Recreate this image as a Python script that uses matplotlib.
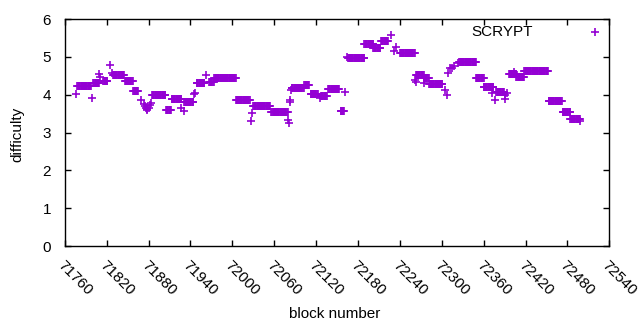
import numpy as np
import matplotlib.pyplot as plt

plt.rcParams['font.family'] = ['Liberation Sans', 'DejaVu Sans']
plt.rcParams['font.size'] = 11

# runs of constant difficulty: first block, last block, difficulty
run_start = [71776, 71778, 71799, 71801, 71809, 71811, 71815, 71824, 71827, 71829,
             71846, 71858, 71869, 71873, 71875, 71876, 71877, 71878, 71880, 71882,
             71883, 71885, 71905, 71913, 71927, 71930, 71931, 71945, 71946, 71949,
             71962, 71967, 71974, 72005, 72026, 72028, 72030, 72056, 72080, 72081,
             72082, 72083, 72084, 72085, 72103, 72112, 72125, 72127, 72137, 72155,
             72162, 72164, 72166, 72189, 72202, 72213, 72227, 72232, 72235, 72240,
             72262, 72263, 72263, 72274, 72274, 72282, 72305, 72308, 72309, 72312,
             72314, 72318, 72323, 72325, 72349, 72360, 72372, 72376, 72378, 72390,
             72391, 72393, 72396, 72403, 72407, 72418, 72453, 72473, 72484, 72498]
run_end = [71776, 71797, 71799, 71809, 71809, 71811, 71821, 71824, 71827, 71845,
           71857, 71865, 71869, 71873, 71875, 71876, 71877, 71878, 71880, 71882,
           71883, 71904, 71912, 71927, 71927, 71930, 71944, 71945, 71946, 71960,
           71962, 71973, 72005, 72025, 72026, 72028, 72054, 72079, 72080, 72081,
           72082, 72083, 72084, 72102, 72110, 72122, 72125, 72135, 72153, 72160,
           72162, 72164, 72189, 72202, 72212, 72223, 72227, 72232, 72235, 72261,
           72262, 72263, 72274, 72281, 72274, 72301, 72305, 72308, 72309, 72312,
           72314, 72318, 72323, 72349, 72360, 72374, 72372, 72376, 72389, 72390,
           72391, 72393, 72407, 72403, 72418, 72452, 72472, 72484, 72498, 72498]
run_diff = [4.01, 4.23, 3.90, 4.30, 4.55, 4.48, 4.35, 4.78, 4.58, 4.51,
            4.35, 4.09, 3.86, 3.75, 3.70, 3.65, 3.62, 3.60, 3.65, 3.72,
            3.77, 3.99, 3.59, 3.88, 3.64, 3.58, 3.80, 4.01, 4.05, 4.32,
            4.53, 4.33, 4.43, 3.85, 3.31, 3.51, 3.70, 3.53, 3.33, 3.26,
            3.80, 3.86, 4.12, 4.17, 4.26, 4.01, 3.90, 3.97, 4.14, 3.56,
            4.06, 5.00, 4.96, 5.34, 5.23, 5.43, 5.58, 5.16, 5.27, 5.09,
            4.39, 4.34, 4.52, 4.43, 4.30, 4.27, 4.12, 3.99, 4.56, 4.70,
            4.70, 4.76, 4.83, 4.86, 4.43, 4.20, 4.04, 3.86, 4.08, 3.99,
            3.88, 4.05, 4.55, 4.61, 4.46, 4.62, 3.83, 3.53, 3.35, 3.30]

xticks = np.arange(71760, 72541, 60)

blocks = []
diffs = []
for s, e, d in zip(run_start, run_end, run_diff):
    for b in range(s, e + 1):
        blocks.append(b)
        diffs.append(d)

fig = plt.figure(figsize=(6.4, 3.3), dpi=100)
ax = fig.add_axes([0.1013, 0.2545, 0.8508, 0.6879])

ax.plot(blocks, diffs, linestyle='none', marker='+', markersize=6,
        markeredgewidth=1.2, color='#9400D3')

ax.set_xlim(71760, 72540)
ax.set_ylim(0, 6)
ax.set_xticks(xticks)
ax.set_yticks(range(0, 7))
ax.set_xticklabels([str(t) for t in xticks], rotation=-45, ha='left', va='top',
                   rotation_mode='anchor')
ax.tick_params(direction='in', length=4, width=1, top=True, right=True)
ax.tick_params(axis='x', pad=9)
ax.tick_params(axis='y', pad=10)
for sp in ax.spines.values():
    sp.set_linewidth(1)

ax.set_xlabel('block number')
ax.xaxis.set_label_coords(0.496, -0.27)
ax.set_ylabel('difficulty', va='center')
ax.yaxis.set_label_coords(-0.088, 0.493)

# key
ax.text(0.8604, 0.944, 'SCRYPT', transform=ax.transAxes, ha='right', va='center')
ax.plot([0.9737], [0.944], transform=ax.transAxes, linestyle='none', marker='+',
        markersize=6, markeredgewidth=1.2, color='#9400D3', clip_on=False)

fig.savefig('out.png', dpi=100)
